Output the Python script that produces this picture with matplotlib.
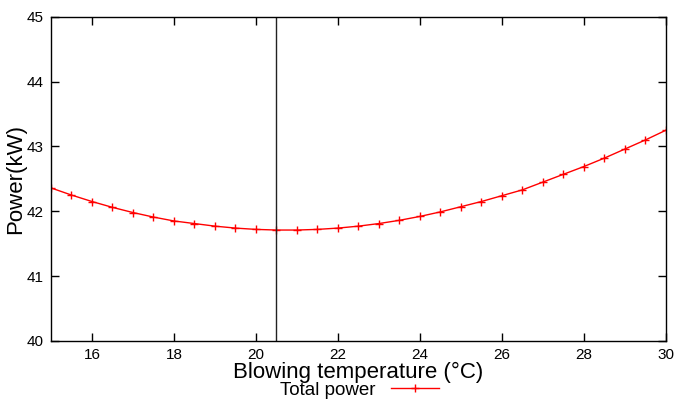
import matplotlib.pyplot as plt

# Blowing temperature (degC) vs total power (kW)
temps = [15, 15.5, 16, 16.5, 17, 17.5, 18, 18.5, 19, 19.5, 20, 20.5, 21, 21.5, 22, 22.5,
         23, 23.5, 24, 24.5, 25, 25.5, 26, 26.5, 27, 27.5, 28, 28.5, 29, 29.5, 30]
power = [42.36, 42.25, 42.15, 42.06, 41.98, 41.91, 41.85, 41.81, 41.77, 41.74, 41.72,
         41.71, 41.71, 41.72, 41.74, 41.77, 41.81, 41.86, 41.92, 41.99, 42.07, 42.15,
         42.24, 42.33, 42.45, 42.57, 42.69, 42.82, 42.96, 43.10, 43.25]
optimum_temp = 20.5
x_ticks = [16, 18, 20, 22, 24, 26, 28, 30]
y_ticks = [40, 41, 42, 43, 44, 45]

plt.rcParams['font.family'] = ['Liberation Sans', 'DejaVu Sans']

fig = plt.figure(figsize=(6.76, 4.01), dpi=100)
ax = fig.add_axes([0.0754, 0.150, 0.9096, 0.808])

line, = ax.plot(temps, power, color='#ff0000', lw=1, marker='+', ms=6, mew=1,
                label='Total power')
ax.axvline(optimum_temp, color='#222222', lw=1)

ax.set_xlim(15, 30)
ax.set_ylim(40, 45)
ax.set_xticks(x_ticks)
ax.set_yticks(y_ticks)
ax.tick_params(direction='in', length=6, width=1, top=True, right=True,
               labelsize=11, pad=5)
for s in ax.spines.values():
    s.set_linewidth(1)

ax.set_xlabel('Blowing temperature (°C)', fontsize=16, labelpad=0)
ax.set_ylabel('Power(kW)', fontsize=16, labelpad=1)

fig.legend(handles=[line], loc='center', bbox_to_anchor=(0.532, 0.027),
           frameon=False, fontsize=13.5, markerfirst=False, handlelength=2.6,
           handletextpad=0.8, numpoints=1, borderpad=0, borderaxespad=0)

fig.savefig('out.png', dpi=100)
